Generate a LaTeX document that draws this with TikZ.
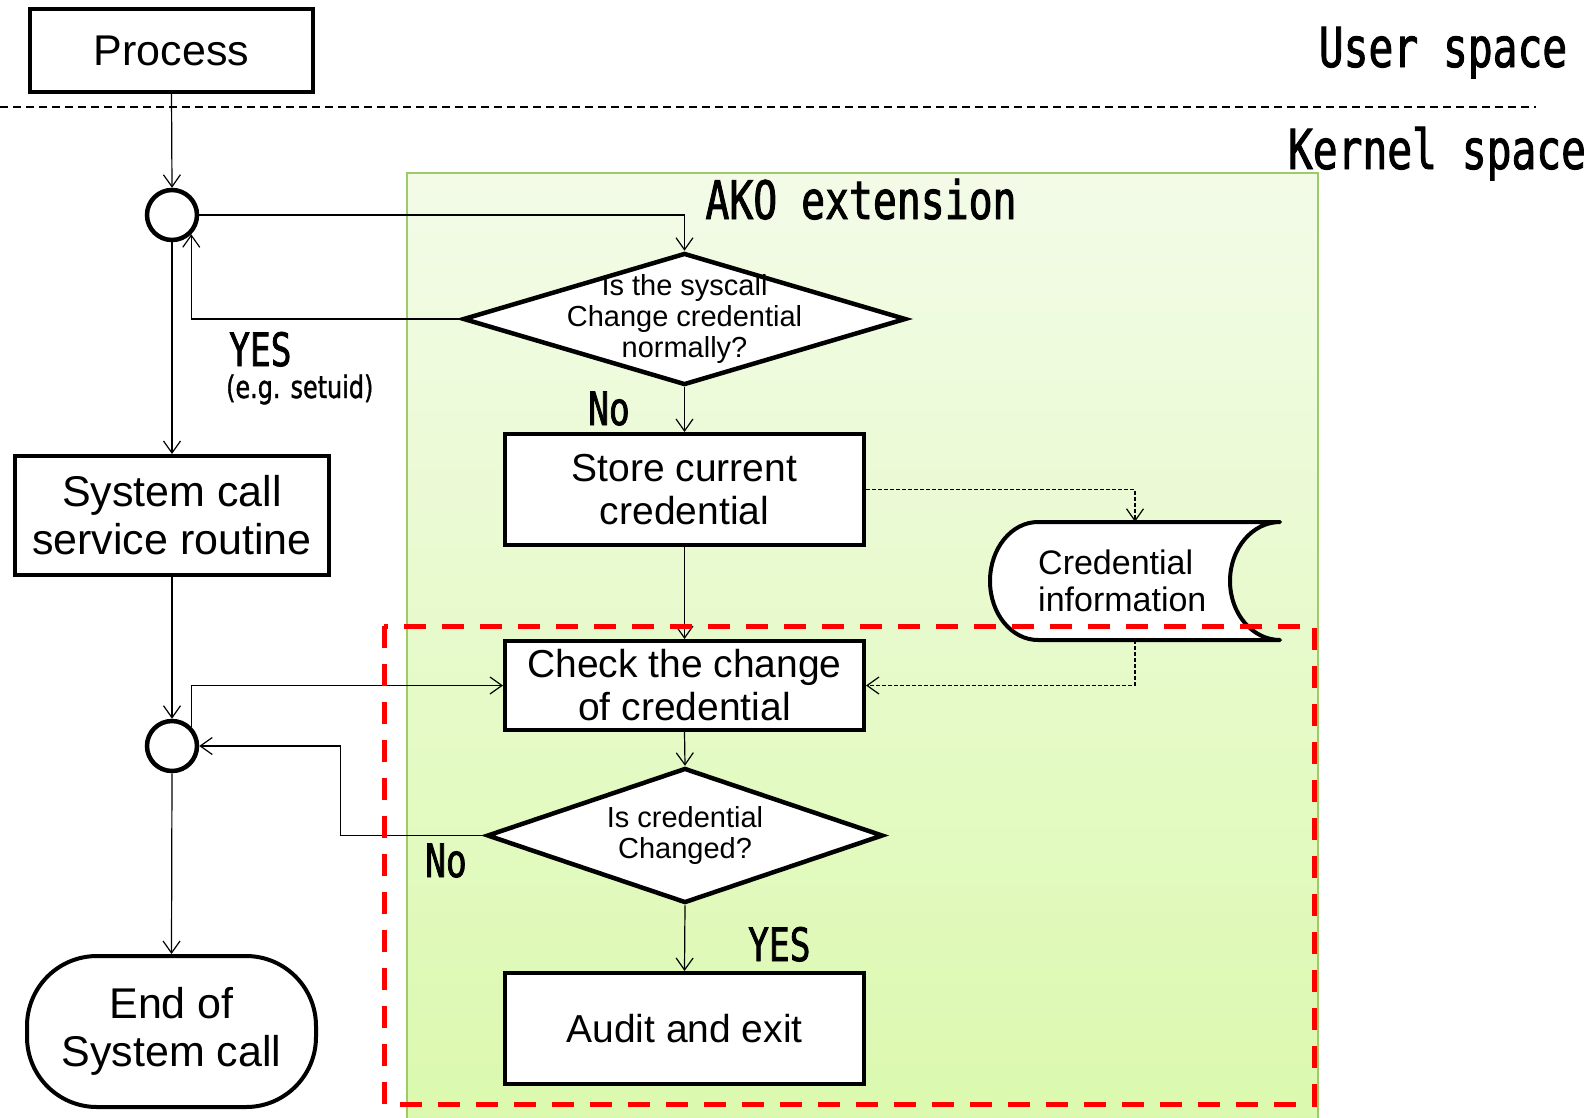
\documentclass[tikz,border=0pt]{standalone}
\usepackage{fontspec}
\setmainfont{Liberation Sans}
\newfontfamily\gothic[FakeStretch=0.75, FakeBold=1.6]{DejaVu Sans Mono}
\newfontfamily\gothicp[FakeStretch=0.77, FakeBold=1.2]{DejaVu Sans}
\usetikzlibrary{arrows.meta,shapes.geometric,calc}
\definecolor{panelTop}{HTML}{F3FBE8}
\definecolor{panelBot}{HTML}{DBF9AE}
\definecolor{panelEdge}{HTML}{9CCB68}
\begin{document}
\begin{tikzpicture}[x=1pt,y=-1pt,
  box/.style={draw, line width=4pt, fill=white, inner sep=0pt, align=center,
              font=\fontsize{39}{43}\selectfont},
  bigbox/.style={box, font=\fontsize{43}{48}\selectfont},
  junction/.style={circle, draw, line width=4.5pt, fill=white, minimum size=50pt, inner sep=0pt},
  decision/.style={diamond, draw, line width=4.5pt, fill=white, inner sep=0pt},
  dtext/.style={align=center, inner sep=0pt, font=\fontsize{29}{31}\selectfont},
  flow/.style={line width=1.2pt, -{Straight Barb[length=12pt,width=17pt]}},
  dataflow/.style={flow, dash pattern=on 4pt off 2pt},
  tag/.style={inner sep=0pt, anchor=base west, text depth=0pt, font=\gothic\fontsize{46}{46}\selectfont},
  region/.style={inner sep=0pt, anchor=base, font=\gothic\fontsize{55}{55}\selectfont},
]
\useasboundingbox (0,0) rectangle (1595,1117);

% kernel extension panel
\shade[top color=panelTop, bottom color=panelBot] (407,173) rectangle (1318,1122);
\draw[panelEdge, line width=1.5pt] (407,1122) -- (407,173) -- (1318,173) -- (1318,1122);

% user / kernel boundary
\draw[line width=1.2pt, dash pattern=on 8pt off 5pt] (0,107) -- (1536,107);
\node[region] (user) at (1443,67) {User space};
\node[region] (kern) at (1437,169) {Kernel space};
\node[region, font=\gothic\fontsize{53}{53}\selectfont] (ako) at (861,219) {AKO extension};

% main flow
\node[bigbox, minimum width=283pt, minimum height=83pt] (proc) at (171.5,50.5) {Process};
\node[junction] (j1) at (172,215) {};
\node[bigbox, minimum width=314pt, minimum height=119pt] (sys) at (172,515.5) {System call\\service routine};
\node[junction] (j2) at (172,746) {};
\node[bigbox, rounded corners=70pt, minimum width=289pt, minimum height=151pt] (done) at (171.5,1031.5) {End of\\System call};

% extension flow
\node[decision, minimum width=443pt, minimum height=132pt] (d1) at (684.5,319) {};
\node[dtext] (d1t) at (684.5,319) {Is the syscall\\Change credential\\normally?};
\node[box, minimum width=359pt, minimum height=111pt] (store) at (684.5,489.5) {Store current\\credential};
\node[box, minimum width=359pt, minimum height=89pt] (check) at (684.5,685.5) {Check the change\\of credential};
\node[decision, minimum width=396pt, minimum height=135pt] (d2) at (685,835.5) {};
\node[dtext] (d2t) at (685,835.5) {Is credential\\Changed?};
\node[box, minimum width=359pt, minimum height=111pt] (audit) at (684.5,1028.5) {Audit and exit};

% stored credential data
\node[minimum width=290pt, minimum height=118pt, inner sep=0pt] (cred) at (1135,581) {};
\draw[line width=4pt, fill=white, line cap=round, line join=round]
  (1038,522) -- (1280,522)
  .. controls (1252.4,522) and (1230,548.4) .. (1230,581)
  .. controls (1230,613.6) and (1252.4,640) .. (1280,640)
  -- (1038,640)
  .. controls (1011.5,640) and (990,613.6) .. (990,581)
  .. controls (990,548.4) and (1011.5,522) .. cycle;
\node[align=left, anchor=west, inner sep=0pt, font=\fontsize{34}{37}\selectfont] (credt) at (1038,581) {Credential\\information};

% connectors
\draw[flow] (proc.south) -- (j1.north);
\draw[flow] (j1.east) -| (d1.north);
\draw[flow] (d1.west) -| (j1.south east);
\draw[flow] (j1.south) -- (sys.north);
\draw[flow] (d1.south) -- (store.north);
\draw[flow] (store.south) -- (check.north);
\draw[flow] (sys.south) -- (j2.north);
\draw[flow] (j2.north east) |- (check.west);
\draw[flow] (check.south) -- (d2.north);
\draw[flow] (d2.west) -- ++(-144,0) |- (j2.east);
\draw[flow] (d2.south) -- (audit.north);
\draw[flow] (j2.south) -- (done.north);
\draw[dataflow] (store.east) -| (cred.north);
\draw[dataflow] (cred.south) |- (check.east);

% branch labels
\node[tag] (yes1) at (229,366) {YES};
\node[inner sep=0pt, anchor=base west, font=\gothicp\fontsize{31}{31}\selectfont] (eg) at (226,398) {(e.g. setuid)};
\node[tag] (no1) at (588,425) {No};
\node[tag] (no2) at (425,877) {No};
\node[tag] (yes2) at (748,961) {YES};

% monitored region
\draw[red, line width=5pt, dash pattern=on 22pt off 16pt] (384,626) rectangle (1314,1104);
\end{tikzpicture}
\end{document}
